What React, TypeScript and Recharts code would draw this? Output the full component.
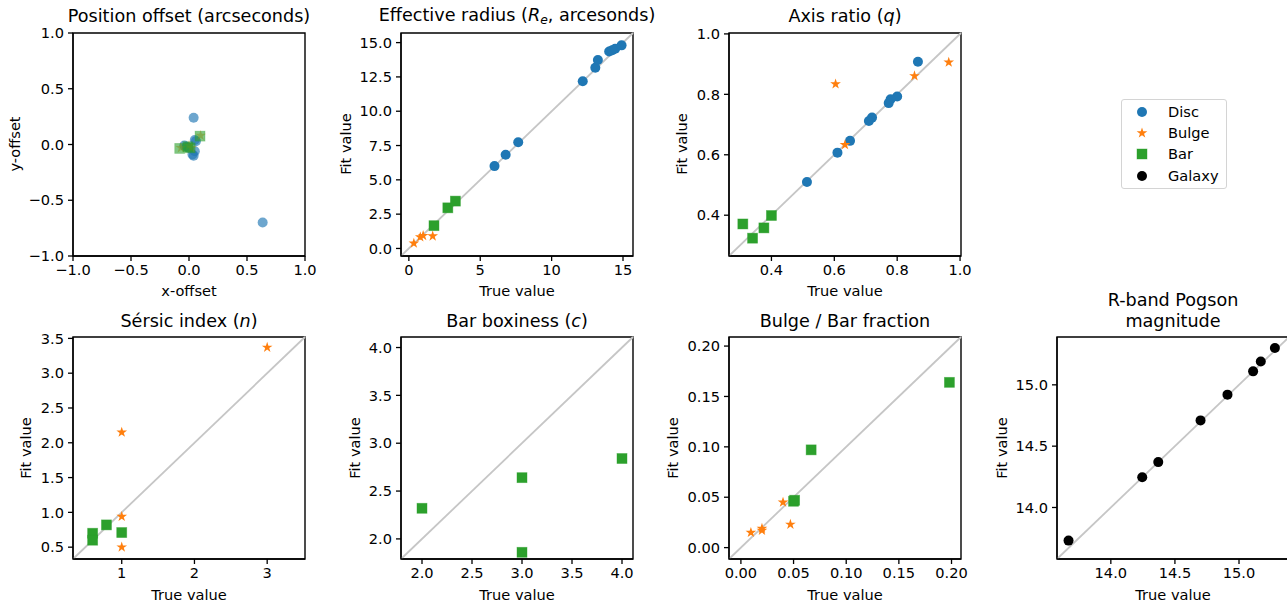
import React from 'react';
import { ScatterChart, Scatter, XAxis, YAxis, ReferenceLine, ReferenceArea } from 'recharts';

type Pt = { x: number; y: number };

// position offset (arcsec)
const posDisc: Pt[] = [
  { x: 0.04, y: 0.24 }, { x: 0.635, y: -0.7 }, { x: 0.04, y: -0.1 }, { x: 0.05, y: 0.04 },
  { x: 0.05, y: -0.06 }, { x: -0.04, y: -0.01 }, { x: 0.0, y: -0.03 }, { x: 0.06, y: 0.03 },
  { x: -0.02, y: -0.02 }, { x: 0.03, y: -0.09 },
];
const posBulge: Pt[] = [{ x: -0.07, y: -0.03 }, { x: 0.02, y: -0.03 }, { x: 0.1, y: 0.08 }, { x: 0.0, y: -0.01 }];
const posBar: Pt[] = [{ x: -0.08, y: -0.035 }, { x: 0.01, y: -0.03 }, { x: 0.095, y: 0.075 }, { x: -0.01, y: -0.02 }];

// effective radius
const reDisc: Pt[] = [
  { x: 6.0, y: 6.0 }, { x: 6.78, y: 6.83 }, { x: 7.66, y: 7.74 }, { x: 12.18, y: 12.19 },
  { x: 13.06, y: 13.17 }, { x: 13.24, y: 13.73 }, { x: 14.03, y: 14.35 }, { x: 14.25, y: 14.45 },
  { x: 14.45, y: 14.55 }, { x: 14.9, y: 14.8 },
];
const reBulge: Pt[] = [{ x: 0.35, y: 0.38 }, { x: 0.8, y: 0.83 }, { x: 1.0, y: 0.93 }, { x: 1.67, y: 0.9 }];
const reBar: Pt[] = [{ x: 1.76, y: 1.66 }, { x: 2.73, y: 2.96 }, { x: 3.26, y: 3.45 }];

// axis ratio
const qDisc: Pt[] = [
  { x: 0.866, y: 0.908 }, { x: 0.8, y: 0.793 }, { x: 0.779, y: 0.784 }, { x: 0.773, y: 0.771 },
  { x: 0.72, y: 0.723 }, { x: 0.71, y: 0.712 }, { x: 0.65, y: 0.646 }, { x: 0.61, y: 0.607 },
  { x: 0.513, y: 0.51 },
];
const qBulge: Pt[] = [{ x: 0.604, y: 0.834 }, { x: 0.634, y: 0.633 }, { x: 0.855, y: 0.861 }, { x: 0.964, y: 0.906 }];
const qBar: Pt[] = [{ x: 0.309, y: 0.371 }, { x: 0.34, y: 0.324 }, { x: 0.376, y: 0.358 }, { x: 0.4, y: 0.399 }];

// sersic index
const nBulge: Pt[] = [{ x: 3.0, y: 3.37 }, { x: 1.0, y: 2.15 }, { x: 1.0, y: 0.94 }, { x: 1.0, y: 0.5 }];
const nBar: Pt[] = [{ x: 0.79, y: 0.82 }, { x: 1.0, y: 0.71 }, { x: 0.6, y: 0.7 }, { x: 0.6, y: 0.6 }];

// bar boxiness
const cBar: Pt[] = [{ x: 2.0, y: 2.32 }, { x: 3.0, y: 2.64 }, { x: 3.0, y: 1.86 }, { x: 4.0, y: 2.84 }];

// bulge / bar fraction
const fBulge: Pt[] = [
  { x: 0.0095, y: 0.015 }, { x: 0.02, y: 0.019 }, { x: 0.02, y: 0.017 }, { x: 0.04, y: 0.045 }, { x: 0.047, y: 0.023 },
];
const fBar: Pt[] = [{ x: 0.198, y: 0.164 }, { x: 0.0667, y: 0.097 }, { x: 0.05, y: 0.046 }, { x: 0.051, y: 0.047 }];

// R-band magnitude
const magGalaxy: Pt[] = [
  { x: 13.67, y: 13.73 }, { x: 14.245, y: 14.247 }, { x: 14.37, y: 14.37 }, { x: 14.7, y: 14.71 },
  { x: 14.91, y: 14.92 }, { x: 15.11, y: 15.11 }, { x: 15.17, y: 15.19 }, { x: 15.28, y: 15.3 },
];

const tickOffset = [-1, -0.5, 0, 0.5, 1];
const tickRe = [0, 5, 10, 15];
const tickReY = [0, 2.5, 5, 7.5, 10, 12.5, 15];
const tickQ = [0.4, 0.6, 0.8, 1.0];
const tickN = [1, 2, 3];
const tickNY = [0.5, 1, 1.5, 2, 2.5, 3, 3.5];
const tickC = [2, 2.5, 3, 3.5, 4];
const tickF = [0, 0.05, 0.1, 0.15, 0.2];
const tickMag = [14, 14.5, 15];

const BLUE = '#1f77b4';
const ORANGE = '#ff7f0e';
const GREEN = '#2ca02c';
const FONT = "'DejaVu Sans', sans-serif";

function starPoints(cx: number, cy: number, R: number) {
  const r = R * 0.381966;
  const pts: string[] = [];
  for (let i = 0; i < 10; i++) {
    const a = -Math.PI / 2 + (i * Math.PI) / 5;
    const rr = i % 2 === 0 ? R : r;
    pts.push(`${cx + rr * Math.cos(a)},${cy + rr * Math.sin(a)}`);
  }
  return pts.join(' ');
}

type Kind = 'disc' | 'star' | 'square' | 'galaxy';

function markerShape(kind: Kind, alpha = 1) {
  return (p: any) => {
    const { cx, cy } = p;
    if (cx == null || cy == null) return <g />;
    if (kind === 'disc') return <circle cx={cx} cy={cy} r={5} fill={BLUE} fillOpacity={alpha} />;
    if (kind === 'galaxy') return <circle cx={cx} cy={cy} r={5} fill="#000" />;
    if (kind === 'square')
      return <rect x={cx - 5} y={cy - 5} width={10} height={10} fill={GREEN} fillOpacity={alpha} stroke={GREEN} strokeOpacity={alpha * 0.5} strokeWidth={0.8} />;
    return <polygon points={starPoints(cx, cy, 5.6)} fill={ORANGE} fillOpacity={alpha} />;
  };
}

const fmt = (d: number) => (v: number) => v.toFixed(d).replace('-', '\u2212');

type Series = { data: Pt[]; kind: Kind; alpha?: number };

function Panel(props: {
  left: number; top: number; h: number; domain: [number, number];
  xTicks: number[]; yTicks: number[]; xd: number; yd: number;
  series: Series[]; diagonal?: boolean;
}) {
  const { left, top, h, domain, xTicks, yTicks, xd, yd, series, diagonal } = props;
  const w = 232;
  const tick = { fontSize: 14.6, fill: '#000', fontFamily: FONT };
  return (
    <div style={{ position: 'absolute', left: left - 60, top: top - 10 }}>
      <ScatterChart width={w + 85} height={h + 45} margin={{ top: 10, right: 25, bottom: 0, left: 0 }}>
        <XAxis type="number" dataKey="x" domain={domain} allowDataOverflow ticks={xTicks} tickFormatter={fmt(xd)}
          tick={tick} tickSize={5} tickMargin={4} height={35} stroke="#000" strokeWidth={1.3} interval={0} />
        <YAxis type="number" dataKey="y" domain={domain} allowDataOverflow ticks={yTicks} tickFormatter={fmt(yd)}
          tick={tick} tickSize={5} tickMargin={4} width={60} stroke="#000" strokeWidth={1.3} interval={0} />
        {diagonal && (
          <ReferenceLine segment={[{ x: domain[0], y: domain[0] }, { x: domain[1], y: domain[1] }]}
            stroke="#c6c6c6" strokeWidth={1.8} ifOverflow="visible" />
        )}
        {series.map((s, i) => (
          <Scatter key={i} data={s.data} isAnimationActive={false} shape={markerShape(s.kind, s.alpha ?? 1)} />
        ))}
        <ReferenceArea x1={domain[0]} x2={domain[1]} y1={domain[0]} y2={domain[1]} fill="none"
          stroke="#000" strokeWidth={1.4} ifOverflow="visible" />
      </ScatterChart>
    </div>
  );
}

function Txt({ x, y, children, size = 14.6, rotate = false }: any) {
  return (
    <div style={{
      position: 'absolute', left: x, top: y, fontFamily: FONT, fontSize: size, lineHeight: 1, color: '#000',
      whiteSpace: 'nowrap', transform: `translate(-50%, -50%)${rotate ? ' rotate(-90deg)' : ''}`,
    }}>{children}</div>
  );
}

const sub = { fontSize: '0.7em', verticalAlign: '-0.25em' } as const;

function LegendBox() {
  const rows: { label: string; kind: Kind }[] = [
    { label: 'Disc', kind: 'disc' }, { label: 'Bulge', kind: 'star' },
    { label: 'Bar', kind: 'square' }, { label: 'Galaxy', kind: 'galaxy' },
  ];
  return (
    <div style={{ position: 'absolute', left: 1121, top: 99, width: 104, height: 88, border: '1px solid #d4d4d4', borderRadius: 3 }}>
      {rows.map((r, i) => (
        <div key={r.label} style={{ position: 'absolute', left: 0, top: 12 + i * 21.2 - 10, height: 20, width: 104 }}>
          <svg width={30} height={20} style={{ position: 'absolute', left: 8, top: 0 }}>
            {markerShape(r.kind)({ cx: 12, cy: 10 })}
          </svg>
          <div style={{ position: 'absolute', left: 46, top: 10, transform: 'translateY(-50%)', fontFamily: FONT, fontSize: 14.6, lineHeight: 1 }}>{r.label}</div>
        </div>
      ))}
    </div>
  );
}

export default function App() {
  const topY = 33, botY = 337;
  const cols = [73, 401, 729, 1057];
  return (
    <div style={{ position: 'absolute', left: 0, top: 0, width: 1287, height: 605, overflow: 'hidden', background: '#fff' }}>
      <Panel left={cols[0]} top={topY} h={223} domain={[-1, 1]} xTicks={tickOffset} yTicks={tickOffset} xd={1} yd={1}
        series={[{ data: posDisc, kind: 'disc', alpha: 0.65 }, { data: posBulge, kind: 'star', alpha: 0.5 }, { data: posBar, kind: 'square', alpha: 0.6 }]} />
      <Panel left={cols[1]} top={topY} h={223} domain={[-0.55, 15.7]} xTicks={tickRe} yTicks={tickReY} xd={0} yd={1} diagonal
        series={[{ data: reDisc, kind: 'disc' }, { data: reBulge, kind: 'star' }, { data: reBar, kind: 'square' }]} />
      <Panel left={cols[2]} top={topY} h={223} domain={[0.265, 1.003]} xTicks={tickQ} yTicks={tickQ} xd={1} yd={1} diagonal
        series={[{ data: qDisc, kind: 'disc' }, { data: qBulge, kind: 'star' }, { data: qBar, kind: 'square' }]} />
      <Panel left={cols[0]} top={botY} h={222} domain={[0.33, 3.52]} xTicks={tickN} yTicks={tickNY} xd={0} yd={1} diagonal
        series={[{ data: nBulge, kind: 'star' }, { data: nBar, kind: 'square' }]} />
      <Panel left={cols[1]} top={botY} h={222} domain={[1.79, 4.11]} xTicks={tickC} yTicks={tickC} xd={1} yd={1} diagonal
        series={[{ data: cBar, kind: 'square' }]} />
      <Panel left={cols[2]} top={botY} h={222} domain={[-0.0113, 0.209]} xTicks={tickF} yTicks={tickF} xd={2} yd={2} diagonal
        series={[{ data: fBulge, kind: 'star' }, { data: fBar, kind: 'square' }]} />
      <Panel left={cols[3]} top={botY} h={222} domain={[13.58, 15.39]} xTicks={tickMag} yTicks={tickMag} xd={1} yd={1} diagonal
        series={[{ data: magGalaxy, kind: 'galaxy' }]} />

      <Txt x={189} y={17} size={17.6}>Position offset (arcseconds)</Txt>
      <Txt x={517} y={17} size={17.6}>Effective radius (<i>R</i><i style={sub}>e</i>, arcesonds)</Txt>
      <Txt x={845} y={17} size={17.6}>Axis ratio (<i>q</i>)</Txt>
      <Txt x={189} y={322} size={17.6}>Sérsic index (<i>n</i>)</Txt>
      <Txt x={517} y={322} size={17.6}>Bar boxiness (<i>c</i>)</Txt>
      <Txt x={845} y={322} size={17.6}>Bulge / Bar fraction</Txt>
      <Txt x={1173} y={301} size={17.6}>R-band Pogson</Txt>
      <Txt x={1173} y={322} size={17.6}>magnitude</Txt>

      <Txt x={189} y={291}>x-offset</Txt>
      <Txt x={15} y={144} rotate>y-offset</Txt>
      <Txt x={517} y={291}>True value</Txt>
      <Txt x={346} y={144} rotate>Fit value</Txt>
      <Txt x={845} y={291}>True value</Txt>
      <Txt x={682} y={144} rotate>Fit value</Txt>
      <Txt x={189} y={595}>True value</Txt>
      <Txt x={26} y={448} rotate>Fit value</Txt>
      <Txt x={517} y={595}>True value</Txt>
      <Txt x={355} y={448} rotate>Fit value</Txt>
      <Txt x={845} y={595}>True value</Txt>
      <Txt x={673} y={448} rotate>Fit value</Txt>
      <Txt x={1173} y={595}>True value</Txt>
      <Txt x={1002} y={448} rotate>Fit value</Txt>

      <LegendBox />
    </div>
  );
}
